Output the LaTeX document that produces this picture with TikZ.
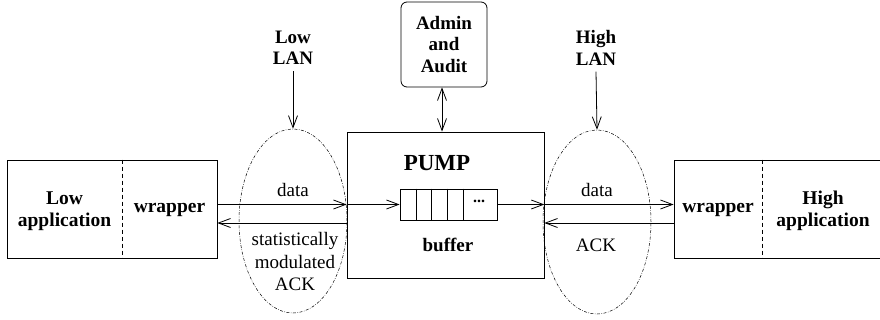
\documentclass[tikz,border=0pt]{standalone}
\usepackage{fontspec}
\setmainfont{Liberation Serif}
\usetikzlibrary{shapes.geometric,arrows.meta}
\tikzset{
  appbox/.style={draw,line width=0.8pt,minimum width=210pt,minimum height=98pt,inner sep=0pt},
  pumpbox/.style={draw,line width=0.8pt,minimum width=197pt,minimum height=146pt,inner sep=0pt},
  adminbox/.style={draw,line width=0.8pt,rounded corners=6pt,minimum width=86pt,minimum height=85pt,
    inner sep=0pt,align=center,font=\fontsize{19}{21.5}\selectfont\bfseries},
  bufbox/.style={draw,line width=0.8pt,minimum width=97pt,minimum height=31pt,inner sep=0pt},
  lanzone/.style={ellipse,draw,line width=0.5pt,dash pattern=on 3pt off 1.5pt on 0.6pt off 1.5pt,
    minimum width=108pt,minimum height=184pt,inner sep=0pt},
  boldlbl/.style={align=center,inner sep=0pt,font=\fontsize{19.5}{22}\selectfont\bfseries},
  msglbl/.style={align=center,inner sep=0pt,font=\fontsize{19}{22.5}\selectfont},
  link/.style={line width=0.8pt},
}
\begin{document}
\begin{tikzpicture}[x=1pt,y=-1pt,>={Straight Barb[length=12pt,width=9pt]}]
  \useasboundingbox (0,0) rectangle (880,320);
  % boxes
  \node[appbox] (lowapp) at (112,209) {};
  \node[appbox] (highapp) at (779,209) {};
  \node[pumpbox] (pump) at (445.5,205) {};
  \node[adminbox] (admin) at (444,44.5) {Admin\\and\\Audit};
  \node[bufbox] (buffer) at (448.5,204.5) {};
  \node[lanzone] (lowlan) at (293,221) {};
  \node[lanzone] (highlan) at (597,222) {};
  % dashed split between application and wrapper
  \draw[line width=0.8pt,dash pattern=on 4pt off 3pt] ([xshift=10pt]lowapp.north) -- ([xshift=10pt]lowapp.south);
  \draw[line width=0.8pt,dash pattern=on 4pt off 3pt] ([xshift=-17pt]highapp.north) -- ([xshift=-17pt]highapp.south);
  % buffer cells
  \foreach \cx in {17,32,48,64}
    \draw[link] ([xshift=\cx pt]buffer.north west) -- ([xshift=\cx pt]buffer.south west);
  \node[font=\fontsize{16}{16}\selectfont\bfseries,inner sep=0pt] (bufdots) at (479,201) {...};
  % texts
  \node[boldlbl] (lowname) at (64.5,211) {Low\\application};
  \node[boldlbl] (lowwrap) at (169.5,210) {wrapper};
  \node[boldlbl] (highwrap) at (718,210) {wrapper};
  \node[boldlbl] (highname) at (823,211) {High\\application};
  \node[font=\fontsize{23}{23}\selectfont\bfseries,inner sep=0pt] (pumplbl) at (437,163) {PUMP};
  \node[font=\fontsize{19}{19}\selectfont\bfseries,inner sep=0pt] (buflbl) at (448,245) {buffer};
  \node[boldlbl,font=\fontsize{19}{21.5}\selectfont\bfseries] (lowlanlbl) at (293,48) {Low\\LAN};
  \node[boldlbl,font=\fontsize{19}{21.5}\selectfont\bfseries] (highlanlbl) at (596,48) {High\\LAN};
  \node[msglbl] (lowdata) at (293,190) {data};
  \node[msglbl] (lowack) at (295,262) {statistically\\modulated\\ACK};
  \node[msglbl] (highdata) at (597,190) {data};
  \node[msglbl] (highack) at (596,245) {ACK};
  % connectors
  \draw[link,->] (lowapp.east |- buffer) -- (pump.west |- buffer);
  \draw[link,->] (pump.west |- buffer) -- (buffer.west);
  \draw[link,->] (buffer.east) -- (pump.east |- buffer);
  \draw[link,->] (pump.east |- buffer) -- (highapp.west |- buffer);
  \draw[link,->] ([yshift=-14pt]highapp.west) -- ([yshift=-14pt]highapp.west -| pump.east);
  \draw[link,->] ([yshift=-14pt]highapp.west -| pump.west) -- ([yshift=-14pt]lowapp.east);
  \draw[link,->] ([yshift=-6pt]lowlanlbl.south) -- (lowlan.north);
  \draw[link,->] ([yshift=-6pt]highlanlbl.south) -- (highlan.north);
  \draw[link,<->] ([xshift=-2pt]admin.south) -- ([xshift=-2pt]admin.south |- pump.north);
\end{tikzpicture}
\end{document}
